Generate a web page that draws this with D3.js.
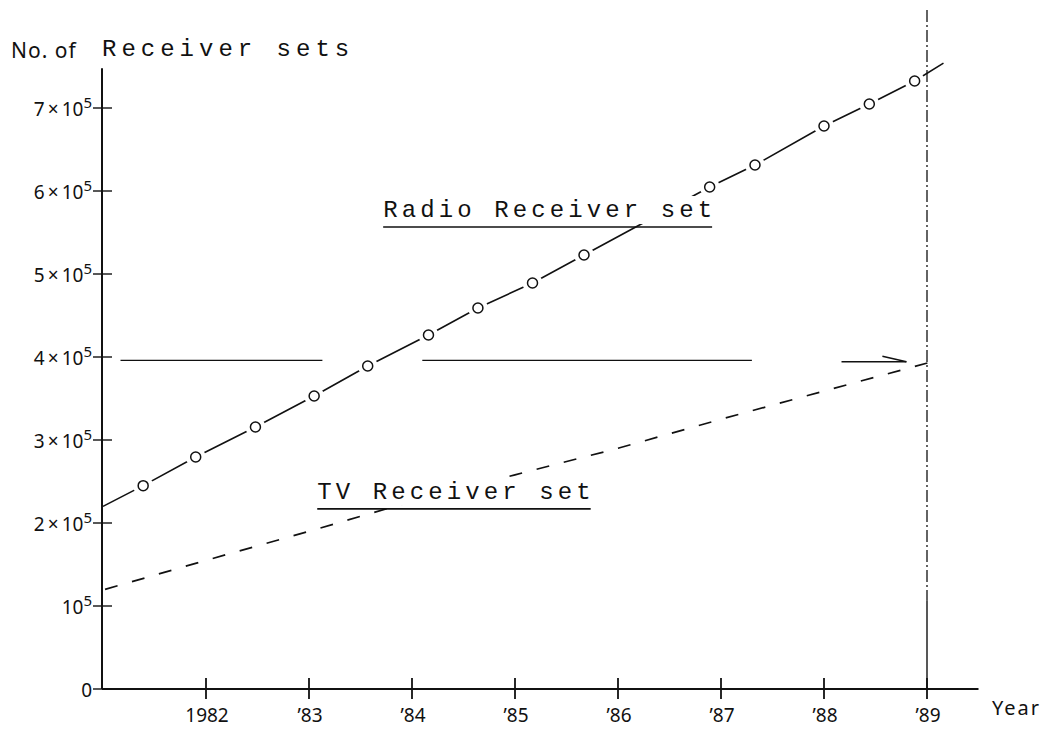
<!DOCTYPE html>
<html>
<head>
<meta charset="utf-8">
<script src="https://cdn.jsdelivr.net/npm/d3@7/dist/d3.min.js"></script>
<style>
  html, body { margin: 0; padding: 0; background: #fff; }
  svg { display: block; }
</style>
</head>
<body>
<svg id="chart" width="1048" height="730"></svg>
<script>
// ---------- data ----------
const radioYears  = [1981.39, 1981.90, 1982.48, 1983.05, 1983.57, 1984.16, 1984.64, 1985.17, 1985.67, 1986.89, 1987.33, 1988.00, 1988.44, 1988.88];
const radioValues = [245000, 279500, 315700, 353000, 389200, 426500, 459000, 489200, 522900, 604800, 631300, 678300, 704800, 732500];
const radioLineStart = [1981.0, 220000];
const radioLineEnd   = [1989.16, 754000];

const tvYears  = [1981.02, 1982, 1983, 1984, 1985, 1986, 1987, 1988, 1989.01];
const tvValues = [120000, 155000, 190000, 226000, 258000, 290000, 325000, 359000, 393000];

const refValue = 396000;               // "4 x 10^5" reference level
const refSegments = [[1981.17, 1983.13], [1984.10, 1987.30]];
const refArrow = [1988.17, 1988.80];

const yTickValues = [0, 100000, 200000, 300000, 400000, 500000, 600000, 700000];
const yTickBase   = ["0", "10", "2\u2009\u00d7\u200910", "3\u2009\u00d7\u200910", "4\u2009\u00d7\u200910", "5\u2009\u00d7\u200910", "6\u2009\u00d7\u200910", "7\u2009\u00d7\u200910"];
const yTickExp    = ["", "5", "5", "5", "5", "5", "5", "5"];

const xTickValues = [1982, 1983, 1984, 1985, 1986, 1987, 1988, 1989];
const xTickLabels = ["1982", "\u201983", "\u201984", "\u201985", "\u201986", "\u201987", "\u201988", "\u201989"];

const markerYear = 1989;

// ---------- setup ----------
const svg = d3.select("#chart");
const ink = "#111";
const sans = "'Noto Sans', 'DejaVu Sans', sans-serif";
const mono = "'Liberation Mono', 'DejaVu Sans Mono', monospace";

const x = d3.scaleLinear().domain([1981, 1989]).range([103, 927]);
const y = d3.scaleLinear().domain([0, 700000]).range([689, 108]);

// ---------- vertical marker line at '89 ----------
svg.append("line")
  .attr("x1", x(markerYear)).attr("x2", x(markerYear))
  .attr("y1", y(818000)).attr("y2", y(107000))
  .attr("stroke", ink).attr("stroke-width", 1.3)
  .attr("stroke-dasharray", "12,3,2,3");
svg.append("line")
  .attr("x1", x(markerYear)).attr("x2", x(markerYear))
  .attr("y1", y(107000)).attr("y2", y(0))
  .attr("stroke", ink).attr("stroke-width", 1.4);

// ---------- reference level (4 x 10^5) ----------
refSegments.forEach(s => {
  svg.append("line")
    .attr("x1", x(s[0])).attr("x2", x(s[1]))
    .attr("y1", y(refValue)).attr("y2", y(refValue))
    .attr("stroke", ink).attr("stroke-width", 1.3);
});
svg.append("line")
  .attr("x1", x(refArrow[0])).attr("x2", x(refArrow[1]))
  .attr("y1", y(refValue) + 1.5).attr("y2", y(refValue) + 1.5)
  .attr("stroke", ink).attr("stroke-width", 1.5);
svg.append("line")
  .attr("x1", x(refArrow[1]) - 24).attr("x2", x(refArrow[1]))
  .attr("y1", y(refValue) - 4).attr("y2", y(refValue) + 1.5)
  .attr("stroke", ink).attr("stroke-width", 1.5);

// ---------- TV dashed line ----------
const tvData = tvYears.map((d, i) => [d, tvValues[i]]);
svg.append("path")
  .datum(tvData)
  .attr("d", d3.line().x(d => x(d[0])).y(d => y(d[1])))
  .attr("fill", "none").attr("stroke", ink).attr("stroke-width", 1.7)
  .attr("stroke-dasharray", "13,15");

// ---------- Radio line ----------
const radioData = [radioLineStart].concat(radioYears.map((d, i) => [d, radioValues[i]]), [radioLineEnd]);
svg.append("path")
  .datum(radioData)
  .attr("d", d3.line().x(d => x(d[0])).y(d => y(d[1])))
  .attr("fill", "none").attr("stroke", ink).attr("stroke-width", 1.6);

// knockouts
const pts = radioYears.map((d, i) => [d, radioValues[i]]);
svg.append("g").selectAll("circle").data(pts).join("circle")
  .attr("cx", d => x(d[0])).attr("cy", d => y(d[1])).attr("r", 10)
  .attr("fill", "#fff");

// ---------- series labels (typewriter, underlined, white background) ----------
function seriesLabel(txt, year, value) {
  const ux = x(year), uy = y(value);
  const g = svg.append("g");
  const bg = g.append("rect").attr("fill", "#fff");
  const t = g.append("text")
    .attr("x", ux).attr("y", uy - 10)
    .attr("font-family", mono).attr("font-size", 24)
    .attr("letter-spacing", "4.1px")
    .attr("fill", ink)
    .text(txt);
  const bb = t.node().getBBox();
  const w = bb.width - 4.1;
  bg.attr("x", ux - 2).attr("y", bb.y - 1).attr("width", w + 6).attr("height", uy - 3 - (bb.y - 1));
  g.append("line")
    .attr("x1", ux).attr("x2", ux + w)
    .attr("y1", uy).attr("y2", uy)
    .attr("stroke", ink).attr("stroke-width", 1.6);
}
seriesLabel("Radio Receiver set", 1983.72, 556600);
seriesLabel("TV Receiver set", 1983.08, 217000);

// circles on top
svg.append("g").selectAll("circle").data(pts).join("circle")
  .attr("cx", d => x(d[0])).attr("cy", d => y(d[1])).attr("r", 5)
  .attr("fill", "#fff").attr("stroke", ink).attr("stroke-width", 1.5);

// ---------- axes ----------
svg.append("line")
  .attr("x1", x(1981) - 1).attr("x2", x(1981) - 1)
  .attr("y1", y(0)).attr("y2", y(748000))
  .attr("stroke", ink).attr("stroke-width", 2);
svg.append("line")
  .attr("x1", x(1981) - 1).attr("x2", x(1989.5))
  .attr("y1", y(0)).attr("y2", y(0))
  .attr("stroke", ink).attr("stroke-width", 1.8);

// y ticks
const yt = svg.append("g").selectAll("g").data(yTickValues).join("g")
  .attr("transform", d => `translate(${x(1981) - 1},${y(d)})`);
yt.append("line").attr("x1", -9).attr("x2", 10).attr("y1", 0).attr("y2", 0)
  .attr("stroke", ink).attr("stroke-width", 1.4);
const ytx = yt.append("text")
  .attr("x", -10).attr("y", 8)
  .attr("text-anchor", "end")
  .attr("font-family", sans).attr("font-size", 19)
  .attr("fill", ink);
ytx.append("tspan").text((d, i) => yTickBase[i]);
ytx.append("tspan").attr("dy", -8).attr("font-size", 15).text((d, i) => yTickExp[i]);

// x ticks
const xt = svg.append("g").selectAll("g").data(xTickValues).join("g")
  .attr("transform", d => `translate(${x(d)},${y(0)})`);
xt.append("line").attr("x1", 0).attr("x2", 0).attr("y1", -11).attr("y2", 10)
  .attr("stroke", ink).attr("stroke-width", 1.8);
xt.append("text")
  .attr("x", 1).attr("y", 33)
  .attr("text-anchor", "middle")
  .attr("font-family", sans).attr("font-size", 19)
  .attr("fill", ink)
  .text((d, i) => xTickLabels[i]);

// axis titles
svg.append("text")
  .attr("x", 992).attr("y", 715)
  .attr("font-family", sans).attr("font-size", 20)
  .attr("letter-spacing", "2px")
  .attr("fill", ink).text("Year");

const title = svg.append("text").attr("x", 11).attr("y", 58).attr("fill", ink);
title.append("tspan").attr("font-family", sans).attr("font-size", 21)
  .attr("letter-spacing", "1px").text("No. of ");
title.append("tspan").attr("x", 102).attr("dy", -2)
  .attr("font-family", mono).attr("font-size", 24)
  .attr("letter-spacing", "5px").text("Receiver sets");
</script>
</body>
</html>
